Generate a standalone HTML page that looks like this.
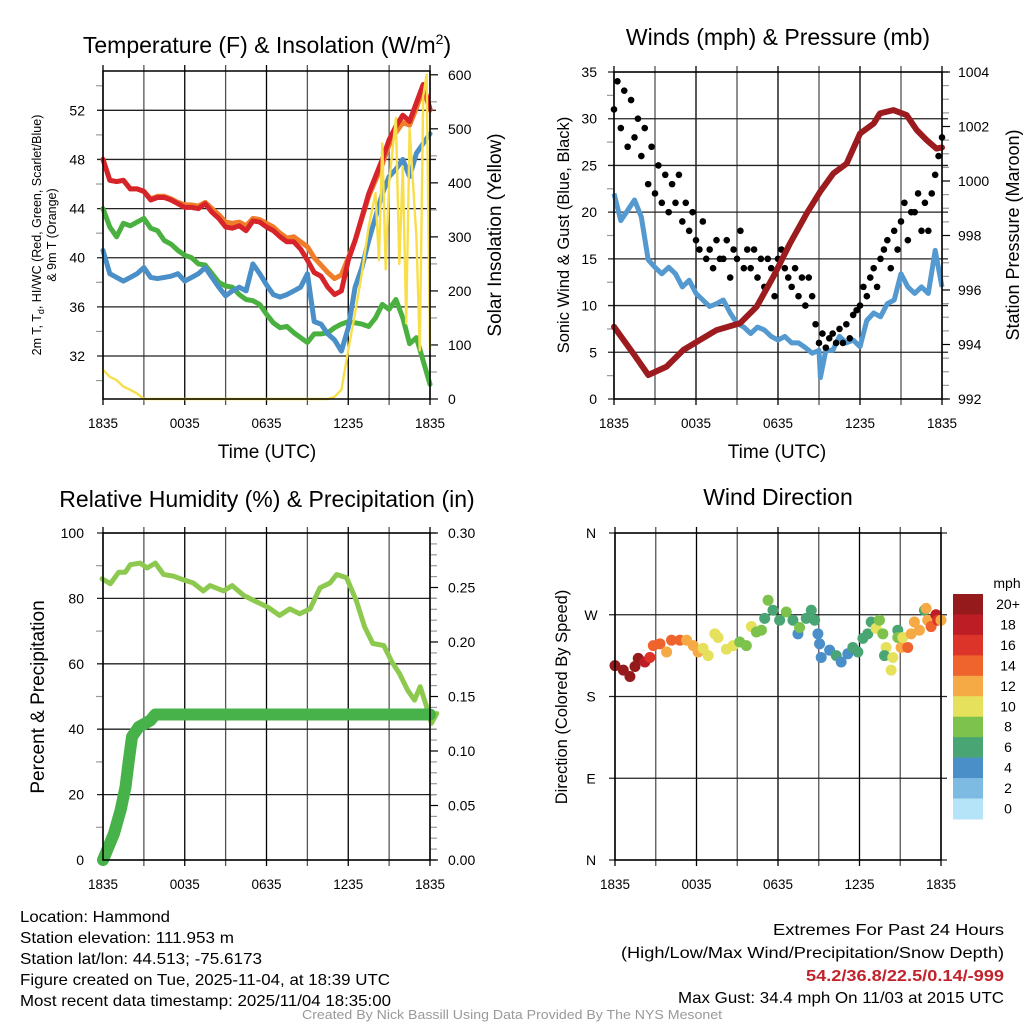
<!DOCTYPE html>
<html><head><meta charset="utf-8"><style>
html,body{margin:0;padding:0;background:#fff;}
svg{display:block;font-family:"Liberation Sans",Arial,sans-serif;}
</style></head><body>
<svg id="fig" width="1024" height="1024" viewBox="0 0 1024 1024">
<g id="texts">
<text x="267" y="53" font-size="23" text-anchor="middle">Temperature (F) &amp; Insolation (W/m<tspan font-size="14" dy="-9">2</tspan><tspan dy="9">)</tspan></text>
<text x="778" y="45" font-size="23" text-anchor="middle">Winds (mph) &amp; Pressure (mb)</text>
<text x="267" y="507" font-size="23" text-anchor="middle">Relative Humidity (%) &amp; Precipitation (in)</text>
<text x="778" y="505" font-size="23" text-anchor="middle">Wind Direction</text>
<text x="267" y="458" font-size="19" text-anchor="middle">Time (UTC)</text>
<text x="777" y="458" font-size="19" text-anchor="middle">Time (UTC)</text>
<text transform="translate(41,235) rotate(-90)" font-size="12.5" text-anchor="middle">2m T, T<tspan font-size="9" dy="3">d</tspan><tspan dy="-3">, HI/WC (Red, Green, Scarlet/Blue)</tspan></text>
<text transform="translate(56,235) rotate(-90)" font-size="12.5" text-anchor="middle">&amp; 9m T (Orange)</text>
<text transform="translate(501,235) rotate(-90)" font-size="19" text-anchor="middle">Solar Insolation (Yellow)</text>
<text transform="translate(569,235) rotate(-90)" font-size="16.5" text-anchor="middle">Sonic Wind &amp; Gust (Blue, Black)</text>
<text transform="translate(1019,235) rotate(-90)" font-size="18" text-anchor="middle">Station Pressure (Maroon)</text>
<text transform="translate(44,697) rotate(-90)" font-size="19" text-anchor="middle">Percent &amp; Precipitation</text>
<text transform="translate(567,697) rotate(-90)" font-size="16.5" text-anchor="middle">Direction (Colored By Speed)</text>
<g font-size="16">
<text x="20" y="922" textLength="150" lengthAdjust="spacingAndGlyphs">Location: Hammond</text>
<text x="20" y="943" textLength="214" lengthAdjust="spacingAndGlyphs">Station elevation: 111.953 m</text>
<text x="20" y="964" textLength="242" lengthAdjust="spacingAndGlyphs">Station lat/lon: 44.513; -75.6173</text>
<text x="20" y="985" textLength="370" lengthAdjust="spacingAndGlyphs">Figure created on Tue, 2025-11-04, at 18:39 UTC</text>
<text x="20" y="1006" textLength="371" lengthAdjust="spacingAndGlyphs">Most recent data timestamp: 2025/11/04 18:35:00</text>
</g>
<g font-size="16" text-anchor="end">
<text x="1004" y="935" textLength="231" lengthAdjust="spacingAndGlyphs">Extremes For Past 24 Hours</text>
<text x="1004" y="958" textLength="383" lengthAdjust="spacingAndGlyphs">(High/Low/Max Wind/Precipitation/Snow Depth)</text>
<text x="1004" y="981" textLength="198" lengthAdjust="spacingAndGlyphs" fill="#c0232b" font-weight="bold">54.2/36.8/22.5/0.14/-999</text>
<text x="1004" y="1003" textLength="326" lengthAdjust="spacingAndGlyphs">Max Gust: 34.4 mph On 11/03 at 2015 UTC</text>
</g>
<text x="512" y="1019" font-size="13" textLength="420" lengthAdjust="spacingAndGlyphs" fill="#999" text-anchor="middle">Created By Nick Bassill Using Data Provided By The NYS Mesonet</text>
</g>
</svg>
<script>
// ---------- data ----------
const xTickLabels = ["1835","0035","0635","1235","1835"];
const tHalf = [0,0.5,1,1.5,2,2.5,3,3.5,4,4.5,5,5.5,6,6.5,7,7.5,8,8.5,9,9.5,10,10.5,11,11.5,12,12.5,13,13.5,14,14.5,15,15.5,16,16.5,17,17.5,18,18.5,19,19.5,20,20.5,21,21.5,22,22.5,23,23.5,24];
const tempRed = [48.0,46.3,46.2,46.3,45.6,45.6,45.4,44.7,44.9,44.9,44.7,44.4,44.1,44.1,44.0,44.4,43.7,43.2,42.5,42.4,42.6,42.2,43.0,42.9,42.5,42.2,41.7,41.3,41.3,40.7,39.8,38.8,38.5,37.6,37.0,37.3,39.8,41.4,43.3,45.2,46.6,48.0,49.6,50.7,51.6,51.1,52.6,54.1,52.1];
const tempOrange = [48.0,46.3,46.2,46.3,45.6,45.6,45.4,44.8,45.0,45.0,44.8,44.5,44.3,44.3,44.2,44.5,44.0,43.5,42.9,42.8,42.9,42.6,43.2,43.1,42.8,42.5,42.0,41.6,41.7,41.3,40.9,40.0,39.4,38.8,38.3,38.6,40.0,41.4,43.2,45.0,46.3,47.6,49.2,50.2,51.0,50.8,52.2,53.8,52.0];
const tempGreen = [44.0,42.5,41.7,42.8,42.6,42.9,43.2,42.4,42.2,41.4,41.1,40.6,40.2,40.0,39.5,39.4,38.7,38.0,37.7,37.6,37.0,36.6,36.5,36.2,35.4,34.7,34.3,34.4,33.9,33.5,33.1,33.8,33.8,33.9,34.3,34.6,34.8,34.7,34.6,34.4,35.1,36.2,35.8,36.6,35.1,33.0,33.5,31.6,29.7];
const tempBlue = [40.6,38.7,38.4,38.1,38.4,38.7,39.2,38.4,38.3,38.4,38.5,38.7,38.1,38.4,38.7,39.2,38.4,37.6,36.9,37.3,37.6,37.3,39.5,38.7,37.8,37.0,36.8,37.0,37.3,37.6,38.7,34.8,34.6,33.8,33.3,32.4,34.3,37.6,39.2,41.4,43.3,45.2,46.6,47.2,48.0,46.6,48.5,49.3,50.1];
const solarT = [0,0.5,1,1.5,2,2.5,3,16.5,17,17.5,18,18.5,19,19.5,20,20.25,20.5,20.75,21,21.5,21.75,22,22.25,22.5,23,23.25,23.5,23.75,24];
const solarV = [54,41,35,23,17,10,0,0,4,17,91,159,233,319,381,257,473,240,400,520,250,430,140,500,300,90,560,600,90];
const windT = [0,0.5,1,1.5,2,2.5,3,3.5,4,4.5,5,5.5,6,6.5,7,7.5,8,8.5,9,9.5,10,10.5,11,11.5,12,12.5,13,13.5,14,14.5,15,15.1,15.5,16,16.5,17,17.5,18,18.5,19,19.5,20,20.5,21,21.5,22,22.5,23,23.5,24];
const windSonic = [22,19.1,20.2,21.3,19.5,14.9,14.1,13.4,14.1,13.4,12.0,12.7,11.3,10.6,9.9,10.2,10.6,9.2,8.1,7.7,7.0,7.7,7.4,6.7,6.3,6.7,6.0,6.0,5.5,4.9,5.2,2.3,5.2,5.2,6.7,6.0,6.3,5.6,8.4,9.2,8.8,10.2,10.6,13.4,12.0,11.3,12.0,11.3,15.9,12.0];
const gustStep = 0.25;
const gustV = [31,34,29,33,27,32,28,30,26,29,23,27,22,25,21,24,20,23,21,24,19,21,18,20,17,16,19,15,16,14,17,15,15,17,13,16,15,18,14,16,14,16,13,15,12,15,14,11,15,16,14,13,12,14,11,13,10,13,11,8,6,7,5.5,6.5,7,6,7.5,6,8,6.5,9,9.5,10,12,11,13,14,12,15,16,17,14,18,16,19,21,17,20,20,22,18,21,18,22,24,26,28];
const presT = [0,1.41,2.51,3.85,5.07,6.29,7.51,9.22,10.44,11.66,12.88,14.1,15.07,16.05,17.02,18,19,19.46,20.44,21.41,22.15,22.88,23.6,24];
const presV = [994.65,993.67,992.88,993.19,993.8,994.17,994.53,994.78,995.39,996.49,997.71,998.81,999.6,1000.28,1000.64,1001.74,1002.11,1002.48,1002.6,1002.42,1001.87,1001.5,1001.19,1001.23];
const rhT = [-0.07,0.54,1.15,1.64,2.0,2.74,3.23,3.84,4.45,5.18,5.9,6.63,7.36,7.85,8.85,9.48,10.36,11.34,12.1,12.96,13.71,14.44,15.2,15.92,16.66,17.15,17.88,18.6,19.2,19.8,20.61,21.2,21.76,22.36,22.86,23.28,23.76,24.1,24.5];
const rhV = [86,84.5,88,88,90.3,90.8,89.3,90.8,87.3,86.8,85.7,84.7,82.3,83.9,82.3,83.9,80.8,78.8,77.3,74.8,76.8,75.3,76.8,83.2,84.7,87.3,86.3,79.2,71.3,66.2,65.6,60.6,57.0,51.9,48.9,53.0,46.8,41.8,44.8];
const precipT = [0,0.3,0.8,1.3,1.65,1.9,2.13,2.62,3.47,3.84,24];
const precipV = [0,0.009,0.024,0.046,0.067,0.092,0.113,0.122,0.128,0.1335,0.1335];
const dirT = [0,0.61,1.10,1.47,1.71,2.20,2.57,2.82,3.31,3.80,4.16,4.78,5.27,5.76,6.12,6.49,6.86,7.35,7.59,8.2,8.69,9.18,9.67,10.04,10.41,10.78,11.02,11.27,11.63,12.12,12.61,13.1,13.47,13.59,14.08,14.45,14.70,14.94,15.06,15.18,15.8,16.29,16.65,17.14,17.51,17.88,18.25,18.61,18.86,19.22,19.47,19.72,19.96,19.84,20.33,20.45,20.82,20.82,21.06,21.19,21.55,21.8,22.04,22.41,22.78,22.9,23.02,23.27,23.63,23.76,24];
const dirV = [214,209,202,213,222,218,223,236,238,229,242,242,242,236,229,233,225,249,245,232,236,240,236,257,251,253,266,286,275,264,273,264,249,256,266,275,264,249,238,223,231,225,218,227,234,229,244,249,262,255,264,249,234,225,209,223,253,245,234,245,234,249,262,253,275,277,264,257,270,264,264];
const dirSpd = [21,21,21,21,21,19,17,15,15,13,15,15,13,13,13,11,11,11,11,11,11,9,9,11,9,9,7,9,7,7,9,7,5,9,7,7,7,5,5,5,5,7,5,5,7,7,7,7,7,11,9,9,11,7,11,11,7,9,13,11,15,13,13,13,7,13,13,15,19,17,13];
const speedBins = ["0","2","4","6","8","10","12","14","16","18","20+"];
const speedColors = ["#b5e3f7","#7ebbe3","#4a8fc7","#49a674","#7cc24c","#e6e15c","#f6aa45","#ef632d","#dc3428","#bd1d24","#941a1c"];

// ---------- helpers ----------
const NS = "http://www.w3.org/2000/svg";
const svg = document.getElementById('fig');
function mk(tag, attrs, parent){ const e=document.createElementNS(NS,tag); for(const k in attrs) e.setAttribute(k,attrs[k]); (parent||svg).appendChild(e); return e; }
function lin(d0,d1,r0,r1){ return v => r0 + (v-d0)/(d1-d0)*(r1-r0); }
function pathFrom(ts, vs, fx, fy){ let d=""; for(let i=0;i<ts.length;i++){ d += (i?"L":"M")+fx(ts[i]).toFixed(1)+","+fy(vs[i]).toFixed(1); } return d; }

function frame(P, name){
  const g = mk('g',{});
  
  
  for(let h=0;h<=24;h+=3){
    const x=P.fx(h);
    const l=mk('line',{x1:x,x2:x,y1:P.y0-6,y2:P.y1+6,stroke:(h%6===0)?'#000':'#555','stroke-width':1.3},g);
    
    
  }
  for(let i=0;i<xTickLabels.length;i++){
    const t=mk('text',{x:P.fx(i*6),y:P.y1+29,'font-size':13.5,'text-anchor':'middle'},g);
    t.textContent=xTickLabels[i];
    
    
  }
  return g;
}
function hgrid(g,P,y){
  const l=mk('line',{x1:P.x0-6,x2:P.x1+6,y1:y,y2:y,stroke:'#222','stroke-width':1.3},g);
  
  
}
function label(g,x,y,txt,anchor,size,nm){
  const t=mk('text',{x:x,y:y+5,'font-size':size||14,'text-anchor':anchor},g);
  t.textContent=txt;
  
  
  return t;
}
function minorTicks(g,x,ys,dir){
  ys.forEach(y=>{ const l=mk('line',{x1:x,x2:x+dir*7,y1:y,y2:y,stroke:'#999','stroke-width':1.2},g);
    
     });
}

// ---------- Panel 1: temperature ----------
{
  const P={x0:103,x1:430,y0:71,y1:399}; P.fx=lin(0,24,P.x0,P.x1);
  const fy=lin(28.5,55.2,P.y1,P.y0), fs=lin(0,607,P.y1,P.y0);
  const g=frame(P,'temp');
  const yTicks=[32,36,40,44,48,52];
  yTicks.forEach(v=>{ hgrid(g,P,fy(v)); label(g,85,fy(v),String(v),'end',14,'temp-y-tick-label'); });
  minorTicks(g,P.x0,[30,34,38,42,46,50,54].map(fy),-1);
  const sTicks=[0,100,200,300,400,500,600];
  sTicks.forEach(v=>{ label(g,448,fs(v),String(v),'start',14,'solar-y-tick-label');
    const l=mk('line',{x1:P.x1,x2:P.x1+8,y1:fs(v),y2:fs(v),stroke:'#000','stroke-width':1.2},g);
      });
  minorTicks(g,P.x1,[50,150,250,350,450,550].map(fs),1);
  const order=[['#f07d2a',tempOrange,'orange-9m-temp-line'],['#d7242a',tempRed,'red-2m-temp-line'],['#4ab040',tempGreen,'green-dewpoint-line'],['#4a8fc7',tempBlue,'blue-windchill-line']];
  order.forEach(s=>{
    const p=mk('path',{d:pathFrom(tHalf,s[1],P.fx,fy),fill:'none',stroke:s[0],'stroke-width':5,'stroke-linejoin':'round','stroke-linecap':'round'});
    
    
  });
  const sp=mk('path',{d:pathFrom(solarT,solarV,P.fx,fs),fill:'none',stroke:'#f8df4a','stroke-width':2.4,'stroke-linejoin':'round'});
  
  
  const b=mk('rect',{x:P.x0,y:P.y0,width:P.x1-P.x0,height:P.y1-P.y0,fill:'none',stroke:'#000','stroke-width':1.5});
  
  
}

// ---------- Panel 2: winds & pressure ----------
{
  const P={x0:614,x1:942,y0:72,y1:399}; P.fx=lin(0,24,P.x0,P.x1);
  const fy=lin(0,35,P.y1,P.y0), fp=lin(992,1004,P.y1,P.y0);
  const g=frame(P,'wind');
  [0,5,10,15,20,25,30,35].forEach(v=>{ hgrid(g,P,fy(v)); label(g,597,fy(v),String(v),'end',14,'wind-y-tick-label'); });
  minorTicks(g,P.x0,[2.5,7.5,12.5,17.5,22.5,27.5,32.5].map(fy),-1);
  [992,994,996,998,1000,1002,1004].forEach(v=>{ label(g,958,fp(v),String(v),'start',14,'pressure-y-tick-label');
    const l=mk('line',{x1:P.x1,x2:P.x1+8,y1:fp(v),y2:fp(v),stroke:'#000','stroke-width':1.2},g);
      });
  const mins=[]; for(let v=992.5; v<1004; v+=0.5){ if(v%2) mins.push(fp(v)); }
  minorTicks(g,P.x1,mins,1);
  const wp=mk('path',{d:pathFrom(windT,windSonic,P.fx,fy),fill:'none',stroke:'#5499d0','stroke-width':5,'stroke-linejoin':'round'});
  
  
  const gg=mk('g',{});
  
  
  for(let i=0;i<gustV.length;i++){
    const c=mk('circle',{cx:P.fx(i*gustStep),cy:fy(gustV[i]),r:3.3,fill:'#000'},gg);
    
    
  }
  const pp=mk('path',{d:pathFrom(presT,presV,P.fx,fp),fill:'none',stroke:'#9b1b1e','stroke-width':6,'stroke-linejoin':'round','stroke-linecap':'round'});
  
  
  const b=mk('rect',{x:P.x0,y:P.y0,width:P.x1-P.x0,height:P.y1-P.y0,fill:'none',stroke:'#000','stroke-width':1.5});
  
  
}

// ---------- Panel 3: RH & precip ----------
{
  const P={x0:103,x1:430,y0:533,y1:860}; P.fx=lin(0,24,P.x0,P.x1);
  const fy=lin(0,100,P.y1,P.y0), fq=lin(0,0.30,P.y1,P.y0);
  const g=frame(P,'rh');
  [0,20,40,60,80,100].forEach(v=>{ hgrid(g,P,fy(v)); label(g,84,fy(v),String(v),'end',14,'rh-y-tick-label'); });
  minorTicks(g,P.x0,[10,30,50,70,90].map(fy),-1);
  [0,0.05,0.10,0.15,0.20,0.25,0.30].forEach(v=>{ label(g,448,fq(v),v.toFixed(2),'start',14,'precip-y-tick-label');
    const l=mk('line',{x1:P.x1,x2:P.x1+8,y1:fq(v),y2:fq(v),stroke:'#000','stroke-width':1.2},g);
      });
  const mins=[]; for(let k=1;k<30;k++){ if(k%5) mins.push(fq(k*0.01)); }
  minorTicks(g,P.x1,mins,1);
  const rp=mk('path',{d:pathFrom(rhT,rhV,P.fx,fy),fill:'none',stroke:'#8dc94e','stroke-width':5,'stroke-linejoin':'round','stroke-linecap':'round'});
  
  
  const qp=mk('path',{d:pathFrom(precipT,precipV,P.fx,fq),fill:'none',stroke:'#48b24a','stroke-width':12,'stroke-linejoin':'round','stroke-linecap':'round'});
  
  
  const b=mk('rect',{x:P.x0,y:P.y0,width:P.x1-P.x0,height:P.y1-P.y0,fill:'none',stroke:'#000','stroke-width':1.5});
  
  
}

// ---------- Panel 4: wind direction ----------
{
  const P={x0:615,x1:941,y0:533,y1:860}; P.fx=lin(0,24,P.x0,P.x1);
  const fy=lin(0,360,P.y1,P.y0);
  const g=frame(P,'direction');
  const dLabels=['N','E','S','W','N'];
  dLabels.forEach((s,i)=>{ hgrid(g,P,fy(i*90)); label(g,591,fy(i*90),s,'middle',14,'direction-y-tick-label'); });
  const pg=mk('g',{});
  
  
  for(let i=0;i<dirT.length;i++){
    const bin=Math.min(10,Math.floor(dirSpd[i]/2));
    const c=mk('circle',{cx:P.fx(dirT[i]),cy:fy(dirV[i]),r:5.5,fill:speedColors[bin]},pg);
    
    
  }
  const b=mk('rect',{x:P.x0,y:P.y0,width:P.x1-P.x0,height:P.y1-P.y0,fill:'none',stroke:'#000','stroke-width':1.5});
  
  
  const lg=mk('g',{});
  
  
  const t=mk('text',{x:1007,y:588,'font-size':14,'text-anchor':'middle'},lg);
  t.textContent='mph';
  
  
  const cb0=594, ch=20.45;
  for(let i=0;i<speedBins.length;i++){
    const k=speedBins.length-1-i;
    const r=mk('rect',{x:953,y:cb0+i*ch,width:30,height:ch+0.5,fill:speedColors[k]},lg);
    
    
    const tx=mk('text',{x:1008,y:cb0+i*ch+15,'font-size':14,'text-anchor':'middle'},lg);
    tx.textContent=speedBins[k];
    
    
  }
}
</script>
</body></html>
